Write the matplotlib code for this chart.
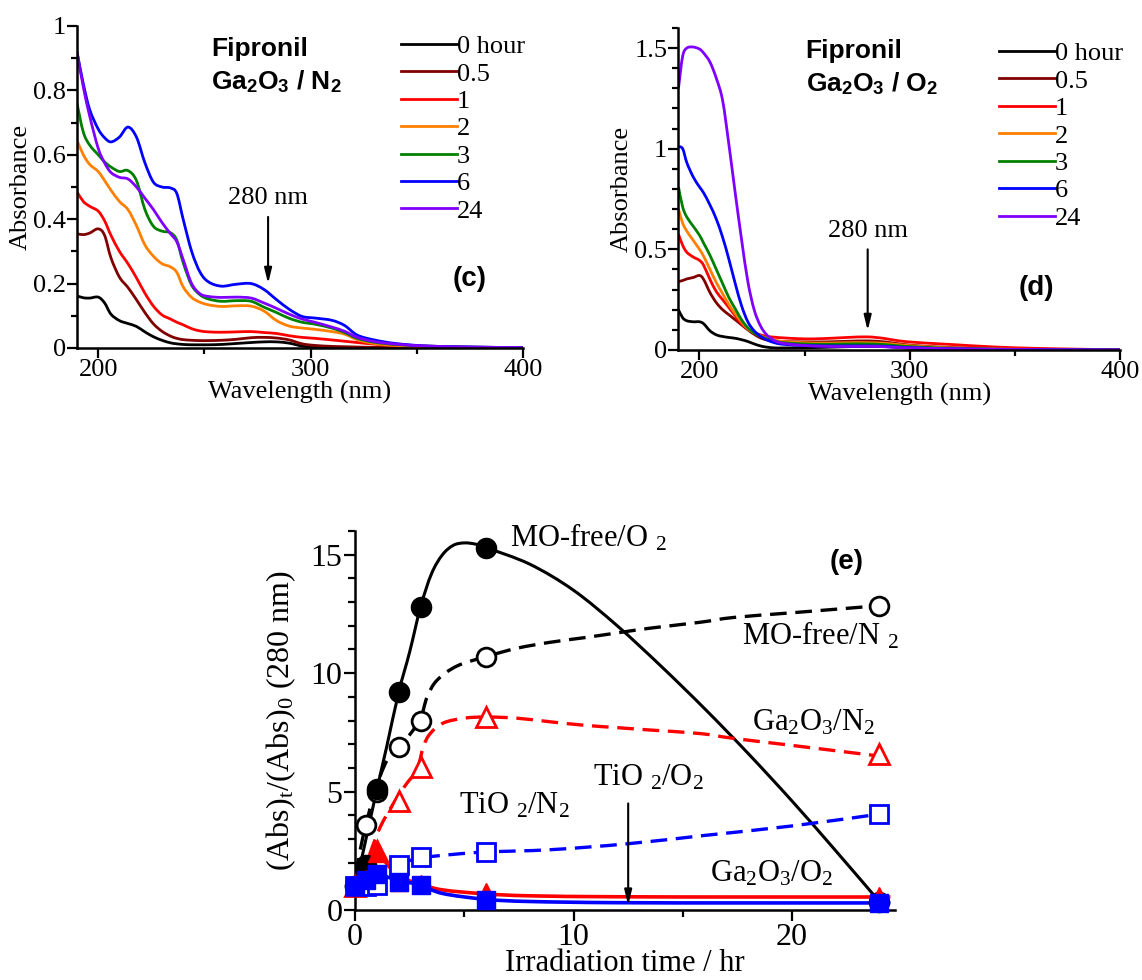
import matplotlib
matplotlib.use('Agg')
import matplotlib.pyplot as plt
from matplotlib.ticker import MultipleLocator, FuncFormatter
from matplotlib.lines import Line2D
from matplotlib.path import Path
from matplotlib.patches import PathPatch

plt.rcParams['font.family'] = ['Liberation Serif', 'DejaVu Serif']
plt.rcParams['mathtext.fontset'] = 'custom'
plt.rcParams['mathtext.rm'] = 'Liberation Serif'
plt.rcParams['mathtext.it'] = 'Liberation Serif:italic'
plt.rcParams['mathtext.bf'] = 'Liberation Sans:bold'

# ---------------- data: panel (c) Ga2O3 / N2 ----------------
hours = ['0 hour', '0.5', '1', '2', '3', '6', '24']
colors = ['#000000', '#800000', '#ff0000', '#ff8000', '#008000', '#0000ff', '#8000ff']

wl_c = [190, 193, 196, 200, 203, 206, 210, 214, 218, 222, 226, 230, 234, 237, 240, 244, 248,
        252, 258, 265, 272, 278, 284, 290, 296, 302, 310, 316, 322, 330, 340, 355, 375, 400]
c_0h = [0.162, 0.156, 0.155, 0.158, 0.14, 0.105, 0.085, 0.076, 0.067, 0.05, 0.035, 0.024, 0.016,
        0.013, 0.011, 0.01, 0.01, 0.01, 0.011, 0.014, 0.017, 0.019, 0.019, 0.015, 0.006, 0.003,
        0.002, 0.001, 0.001, 0.0, 0.0, 0.0, 0.0, 0.0]
c_05h = [0.355, 0.352, 0.357, 0.37, 0.35, 0.28, 0.22, 0.188, 0.15, 0.11, 0.075, 0.052, 0.037,
         0.03, 0.026, 0.024, 0.023, 0.023, 0.024, 0.027, 0.032, 0.033, 0.031, 0.025, 0.013,
         0.008, 0.005, 0.004, 0.003, 0.002, 0.001, 0.001, 0.0, 0.0]
c_1h = [0.485, 0.455, 0.44, 0.425, 0.395, 0.35, 0.30, 0.262, 0.218, 0.17, 0.13, 0.103, 0.09,
        0.08, 0.072, 0.06, 0.053, 0.05, 0.049, 0.05, 0.051, 0.048, 0.045, 0.038, 0.033, 0.03,
        0.025, 0.021, 0.017, 0.012, 0.008, 0.004, 0.002, 0.0]
c_2h = [0.645, 0.60, 0.57, 0.548, 0.52, 0.49, 0.455, 0.43, 0.38, 0.32, 0.285, 0.262, 0.252,
        0.235, 0.19, 0.157, 0.142, 0.134, 0.129, 0.131, 0.13, 0.115, 0.085, 0.068, 0.062, 0.058,
        0.051, 0.043, 0.026, 0.014, 0.008, 0.004, 0.002, 0.0]
c_3h = [0.76, 0.67, 0.63, 0.60, 0.578, 0.562, 0.548, 0.551, 0.52, 0.43, 0.378, 0.363, 0.358,
        0.335, 0.265, 0.195, 0.165, 0.152, 0.145, 0.147, 0.145, 0.127, 0.11, 0.092, 0.08, 0.074,
        0.062, 0.048, 0.03, 0.018, 0.011, 0.006, 0.003, 0.001]
c_6h = [0.92, 0.82, 0.74, 0.68, 0.653, 0.640, 0.655, 0.686, 0.655, 0.575, 0.515, 0.50, 0.497,
        0.48, 0.40, 0.30, 0.235, 0.205, 0.192, 0.198, 0.200, 0.182, 0.15, 0.12, 0.098, 0.093,
        0.086, 0.07, 0.04, 0.025, 0.014, 0.006, 0.003, 0.001]
c_24h = [0.92, 0.81, 0.72, 0.62, 0.575, 0.545, 0.53, 0.525, 0.50, 0.465, 0.43, 0.39, 0.355,
         0.33, 0.275, 0.20, 0.168, 0.16, 0.157, 0.158, 0.155, 0.14, 0.123, 0.105, 0.09, 0.08,
         0.065, 0.052, 0.033, 0.02, 0.012, 0.006, 0.003, 0.001]

# ---------------- data: panel (d) Ga2O3 / O2 ----------------
wl_d = [190, 192, 194, 197, 200, 202, 205, 208, 211, 214, 217, 220, 223, 226, 229, 232, 236,
        240, 250, 260, 270, 280, 288, 295, 305, 320, 340, 360, 380, 400]
d_0h = [0.20, 0.16, 0.145, 0.14, 0.14, 0.13, 0.095, 0.075, 0.067, 0.062, 0.058, 0.051, 0.042,
        0.03, 0.02, 0.014, 0.01, 0.01, 0.011, 0.013, 0.016, 0.018, 0.017, 0.012, 0.006, 0.003,
        0.001, 0.0, 0.0, 0.0]
d_05h = [0.34, 0.345, 0.353, 0.36, 0.37, 0.35, 0.285, 0.235, 0.2, 0.175, 0.15, 0.125, 0.1,
         0.078, 0.06, 0.05, 0.045, 0.042, 0.04, 0.04, 0.043, 0.045, 0.04, 0.03, 0.02, 0.012,
         0.006, 0.003, 0.001, 0.0]
d_1h = [0.575, 0.52, 0.485, 0.462, 0.445, 0.42, 0.35, 0.29, 0.25, 0.21, 0.17, 0.13, 0.105,
        0.088, 0.075, 0.068, 0.063, 0.06, 0.055, 0.057, 0.062, 0.065, 0.057, 0.045, 0.036,
        0.027, 0.015, 0.008, 0.004, 0.001]
d_2h = [0.70, 0.63, 0.59, 0.545, 0.50, 0.465, 0.40, 0.335, 0.28, 0.225, 0.18, 0.14, 0.105,
        0.085, 0.07, 0.058, 0.048, 0.042, 0.036, 0.034, 0.036, 0.036, 0.033, 0.026, 0.018,
        0.01, 0.005, 0.003, 0.001, 0.0]
d_3h = [0.81, 0.71, 0.66, 0.615, 0.57, 0.53, 0.47, 0.40, 0.33, 0.26, 0.205, 0.15, 0.11, 0.085,
        0.068, 0.055, 0.043, 0.036, 0.03, 0.028, 0.03, 0.03, 0.027, 0.02, 0.014, 0.008, 0.004,
        0.002, 0.001, 0.0]
d_6h = [1.01, 1.0, 0.93, 0.86, 0.81, 0.78, 0.72, 0.65, 0.56, 0.45, 0.33, 0.22, 0.14, 0.095,
        0.068, 0.05, 0.035, 0.028, 0.022, 0.02, 0.02, 0.02, 0.018, 0.014, 0.01, 0.006, 0.003,
        0.002, 0.001, 0.0]
d_24h = [1.30, 1.46, 1.50, 1.505, 1.495, 1.475, 1.43, 1.35, 1.24, 1.02, 0.78, 0.55, 0.34, 0.20,
         0.12, 0.075, 0.045, 0.033, 0.022, 0.018, 0.017, 0.018, 0.016, 0.012, 0.009, 0.006,
         0.004, 0.002, 0.001, 0.0]

# ---------------- data: panel (e) ----------------
t_pts = [0, 0.5, 1, 2, 3, 6, 24]
mo_o2 = [1.0, 1.9, 5.1, 9.2, 12.8, 15.3, 0.35]
mo_n2 = [1.0, 3.6, 5.0, 6.9, 8.0, 10.7, 12.85]
ga_n2 = [1.0, 1.4, 2.5, 4.6, 6.05, 8.15, 6.6]
ga_o2 = [1.0, 1.3, 2.4, 1.2, 1.1, 0.75, 0.6]
ti_n2 = [1.0, 1.0, 1.05, 1.9, 2.25, 2.45, 4.05]
ti_o2 = [1.0, 1.25, 1.5, 1.2, 1.06, 0.42, 0.3]

# fitted (smooth) curves
fit_mo_o2_t = [0.05, 0.25, 0.5, 1, 1.45, 2, 2.5, 3, 3.5, 4, 4.5, 5, 5.5, 6, 8, 10, 12, 14, 16,
               18, 20, 22, 24]
fit_mo_o2_v = [1.5, 2.0, 3.0, 5.1, 6.9, 9.2, 10.9, 12.8, 14.2, 15.0, 15.4, 15.5, 15.45, 15.3,
               14.6, 13.5, 12.0, 10.3, 8.5, 6.6, 4.6, 2.5, 0.35]
fit_mo_n2_t = [0.05, 0.25, 0.5, 0.9, 1.45, 2, 2.5, 3, 3.3, 3.75, 4.66, 6, 7.4, 8.9, 10.5, 12,
               13.5, 15.8, 17.3, 20, 24]
fit_mo_n2_v = [1.5, 2.6, 3.6, 5.0, 6.3, 6.9, 7.4, 8.1, 9.0, 9.7, 10.3, 10.7, 11.05, 11.3, 11.5,
               11.7, 11.9, 12.15, 12.35, 12.55, 12.85]
fit_ga_n2_t = [0.3, 0.69, 1.15, 1.76, 2.37, 2.83, 3.13, 3.44, 4.05, 5, 6, 7.4, 8.9, 10.5, 12,
               13.5, 15.8, 17.3, 20, 24]
fit_ga_n2_v = [1.3, 2.4, 3.5, 4.5, 5.35, 5.9, 6.9, 7.45, 7.9, 8.1, 8.15, 8.1, 7.95, 7.8, 7.7,
               7.6, 7.45, 7.25, 6.95, 6.5]
fit_ti_n2_t = [2, 3, 4.5, 6, 9, 12.5, 16, 20, 24]
fit_ti_n2_v = [1.95, 2.2, 2.35, 2.45, 2.55, 2.8, 3.15, 3.55, 4.05]
fit_ga_o2_t = [0, 0.5, 1, 1.5, 2, 3, 4, 6, 8, 12, 18, 24.5]
fit_ga_o2_v = [1.0, 1.7, 2.4, 1.9, 1.4, 1.1, 0.85, 0.68, 0.6, 0.56, 0.55, 0.55]
fit_ti_o2_t = [0, 0.5, 1, 2, 3, 4, 6, 8, 12, 18, 24.5]
fit_ti_o2_v = [1.0, 1.3, 1.5, 1.25, 1.05, 0.7, 0.45, 0.36, 0.31, 0.3, 0.3]


# ---------------- helpers ----------------
def smooth_path(ax, xs, ys, **kw):
    """Draw a smooth (Catmull-Rom -> cubic Bezier) line through the given data points."""
    n = len(xs)
    verts = [(xs[0], ys[0])]
    codes = [Path.MOVETO]
    for i in range(n - 1):
        x0, y0 = (xs[i - 1], ys[i - 1]) if i > 0 else (xs[i], ys[i])
        x1, y1 = xs[i], ys[i]
        x2, y2 = xs[i + 1], ys[i + 1]
        x3, y3 = (xs[i + 2], ys[i + 2]) if i + 2 < n else (xs[i + 1], ys[i + 1])
        c1 = (x1 + (x2 - x0) / 6.0, y1 + (y2 - y0) / 6.0)
        c2 = (x2 - (x3 - x1) / 6.0, y2 - (y3 - y1) / 6.0)
        verts += [c1, c2, (x2, y2)]
        codes += [Path.CURVE4, Path.CURVE4, Path.CURVE4]
    patch = PathPatch(Path(verts, codes), fill=False, capstyle='butt', joinstyle='round', **kw)
    ax.add_patch(patch)
    return patch


fig = plt.figure(figsize=(11.42, 9.8), dpi=100)
fig.patch.set_facecolor('white')

TICK_FS = 19
fmt = FuncFormatter(lambda v, p: f"{v:g}")


def style_axis(ax, fs, maj_len=7, min_len=4):
    for s in ('top', 'right'):
        ax.spines[s].set_visible(False)
    for s in ('left', 'bottom'):
        ax.spines[s].set_linewidth(1.8)
    ax.tick_params(which='both', direction='out', width=1.6, labelsize=fs, pad=1)
    ax.tick_params(which='major', length=maj_len)
    ax.tick_params(which='minor', length=min_len)
    ax.xaxis.set_major_formatter(fmt)
    ax.yaxis.set_major_formatter(fmt)


def spectra_panel(rect, wl, curves, ylim, ymaj, title2, tag, tag_xy, arrow_x, arrow_text_y,
                  arrow_y0, arrow_y1, leg_anchor):
    ax = fig.add_axes(rect)
    handles = []
    for ys, c, lab in zip(curves, colors, hours):
        smooth_path(ax, wl, ys, edgecolor=c, lw=2.0)
        handles.append(Line2D([], [], color=c, lw=2.0, label=lab))
    ax.set_xlim(190, 400)
    ax.set_ylim(*ylim)
    ax.xaxis.set_major_locator(MultipleLocator(100))
    ax.xaxis.set_minor_locator(MultipleLocator(50))
    ax.yaxis.set_major_locator(MultipleLocator(ymaj))
    ax.yaxis.set_minor_locator(MultipleLocator(0.1))
    style_axis(ax, TICK_FS)
    ax.set_xlabel('Wavelength (nm)', fontsize=TICK_FS, labelpad=0)
    ax.set_ylabel('Absorbance', fontsize=TICK_FS, labelpad=1)
    ax.legend(handles=handles, loc='upper left', bbox_to_anchor=leg_anchor,
              frameon=False, fontsize=TICK_FS, handlelength=2.1, handletextpad=0.0,
              labelspacing=0.15, borderpad=0, borderaxespad=0)
    ax.text(title2[0], title2[1], 'Fipronil', fontsize=19, fontweight='bold',
            family='Liberation Sans', va='center', ha='left')
    ax.text(title2[0], title2[2], title2[3], fontsize=19, fontweight='bold',
            family='Liberation Sans', va='center', ha='left')
    ax.text(tag_xy[0], tag_xy[1], tag, fontsize=20, fontweight='bold',
            family='Liberation Sans', va='center', ha='left')
    ax.text(arrow_x, arrow_text_y, '280 nm', fontsize=TICK_FS, ha='center', va='center')
    ax.annotate('', xy=(arrow_x, arrow_y1), xytext=(arrow_x, arrow_y0),
                arrowprops=dict(arrowstyle='-|>,head_width=0.22,head_length=0.9',
                                color='black', lw=1.5, shrinkA=0, shrinkB=0))
    return ax


# panel (c)
spectra_panel([0.0674, 0.6449, 0.3905, 0.3286], wl_c,
              [c_0h, c_05h, c_1h, c_2h, c_3h, c_6h, c_24h], (0, 1.0), 0.2,
              (253, 0.927, 0.828, r'Ga$_\mathbf{2}$O$_\mathbf{3}$ / N$_\mathbf{2}$'),
              '(c)', (367, 0.215), 280, 0.465, 0.407, 0.2, (0.727, 0.973))

# panel (d)
spectra_panel([0.5941, 0.6429, 0.3866, 0.3286], wl_d,
              [d_0h, d_05h, d_1h, d_2h, d_3h, d_6h, d_24h], (0, 1.6), 0.5,
              (250.5, 1.485, 1.325, r'Ga$_\mathbf{2}$O$_\mathbf{3}$ / O$_\mathbf{2}$'),
              '(d)', (352, 0.31), 280, 0.59, 0.5, 0.096, (0.727, 0.957))

# panel (e)
FS_E = 23
ax = fig.add_axes([0.3109, 0.0714, 0.4726, 0.3867])
DASH = (0, (5, 2.6))
smooth_path(ax, fit_mo_o2_t, fit_mo_o2_v, edgecolor='black', lw=2.2, zorder=2)
smooth_path(ax, fit_mo_n2_t, fit_mo_n2_v, edgecolor='black', lw=2.4, ls=DASH, zorder=2)
smooth_path(ax, fit_ga_n2_t, fit_ga_n2_v, edgecolor='#ff0000', lw=2.4, ls=DASH, zorder=2)
smooth_path(ax, fit_ti_n2_t, fit_ti_n2_v, edgecolor='#0000ff', lw=2.4, ls=DASH, zorder=2)
smooth_path(ax, fit_ga_o2_t, fit_ga_o2_v, edgecolor='#ff0000', lw=2.6, zorder=2)
smooth_path(ax, fit_ti_o2_t, fit_ti_o2_v, edgecolor='#0000ff', lw=2.6, zorder=2)

ax.plot(t_pts, mo_n2, ls='none', marker='o', ms=13.5, mfc='white', mec='black', mew=2.0,
        zorder=3, clip_on=False)
ax.plot(t_pts, mo_o2, ls='none', marker='o', ms=14.5, mfc='black', mec='black',
        zorder=4, clip_on=False)
ax.plot(t_pts, ga_n2, ls='none', marker='^', ms=14.5, mfc='white', mec='#ff0000', mew=2.0,
        zorder=3, clip_on=False)
ax.plot(t_pts, ti_n2, ls='none', marker='s', ms=12.5, mfc='white', mec='#0000ff', mew=2.0,
        zorder=5, clip_on=False)
ax.plot(t_pts, ga_o2, ls='none', marker='^', ms=13, mfc='#ff0000', mec='#ff0000',
        zorder=5, clip_on=False)
ax.plot(t_pts, ti_o2, ls='none', marker='s', ms=12.5, mfc='#0000ff', mec='#0000ff',
        zorder=6, clip_on=False)

ax.set_xlim(0, 24.7)
ax.set_ylim(0, 16)
ax.xaxis.set_major_locator(MultipleLocator(10))
ax.xaxis.set_minor_locator(MultipleLocator(5))
ax.yaxis.set_major_locator(MultipleLocator(5))
ax.yaxis.set_minor_locator(MultipleLocator(1))
style_axis(ax, FS_E, maj_len=8, min_len=5)
ax.set_xlabel('Irradiation time / hr', fontsize=22, labelpad=-2)
ax.set_ylabel(r'(Abs)$_\mathrm{t}$/(Abs)$_0$ (280 nm)', fontsize=FS_E, labelpad=9)

FS_L = 22
ax.text(7.1, 15.35, r'MO-free/O $_2$', fontsize=FS_L, ha='left', va='baseline')
ax.text(17.7, 11.2, r'MO-free/N $_2$', fontsize=FS_L, ha='left', va='baseline')
ax.text(18.15, 7.6, r'Ga$_2$O$_3$/N$_2$', fontsize=FS_L, ha='left', va='baseline')
ax.text(10.9, 5.25, r'TiO $_2$/O$_2$', fontsize=FS_L, ha='left', va='baseline')
ax.text(4.74, 4.08, r'TiO $_2$/N$_2$', fontsize=FS_L, ha='left', va='baseline')
ax.text(16.25, 1.2, r'Ga$_2$O$_3$/O$_2$', fontsize=FS_L, ha='left', va='baseline')
ax.text(21.7, 14.7, '(e)', fontsize=20, fontweight='bold', family='Liberation Sans',
        ha='left', va='center')
ax.annotate('', xy=(12.5, 0.2), xytext=(12.5, 4.5),
            arrowprops=dict(arrowstyle='-|>,head_width=0.22,head_length=0.9',
                            color='black', lw=1.5, shrinkA=0, shrinkB=0))

fig.savefig('out.png', dpi=100, facecolor='white')
